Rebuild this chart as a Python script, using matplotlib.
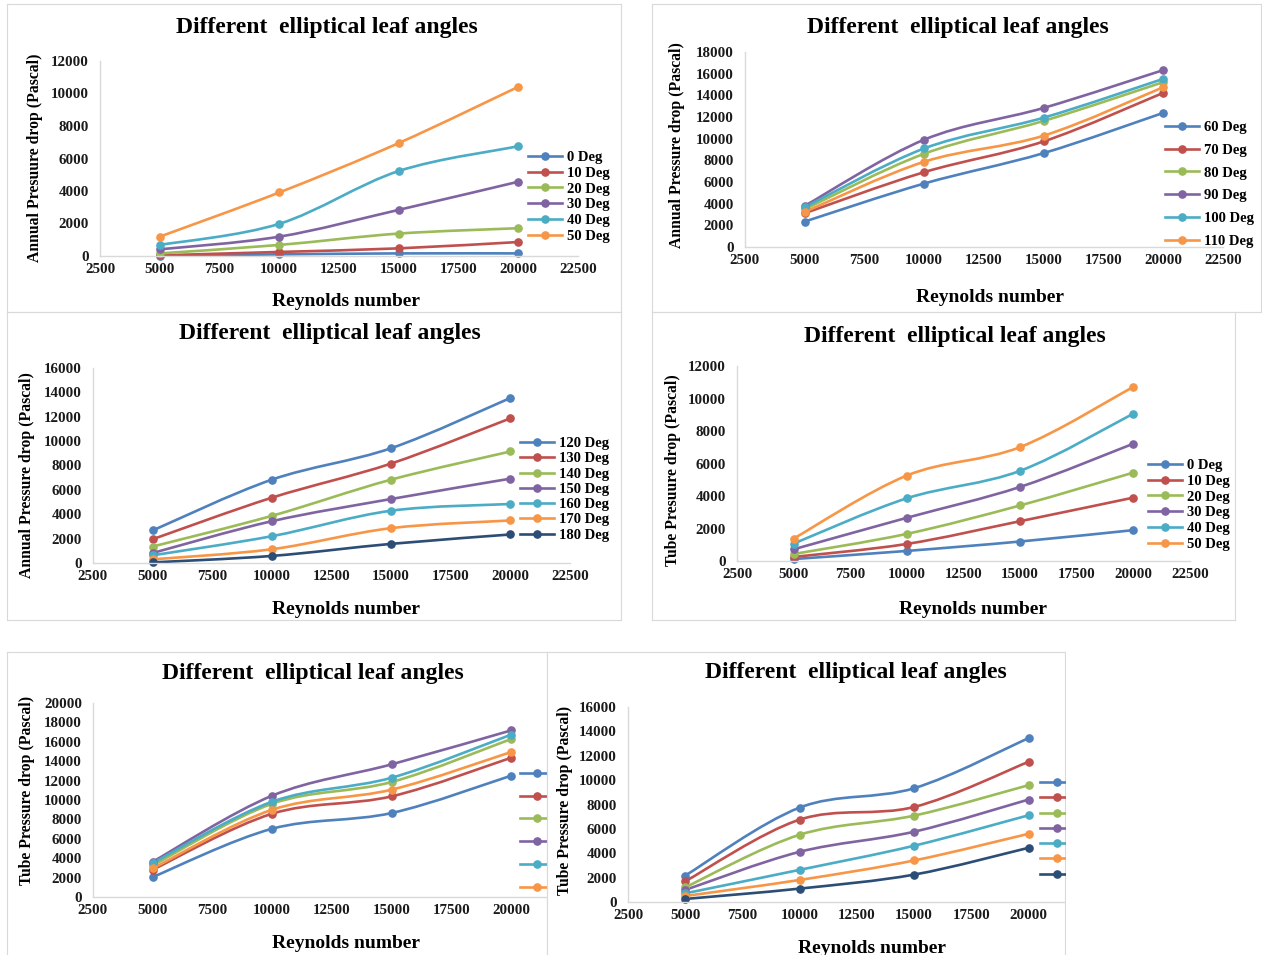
import numpy as np
import matplotlib
matplotlib.use("Agg")
import matplotlib.pyplot as plt
from matplotlib.path import Path
from matplotlib.patches import PathPatch
from matplotlib.lines import Line2D

plt.rcParams['font.family'] = ['Liberation Serif', 'DejaVu Serif']
plt.rcParams['font.weight'] = 'bold'

W, H = 1262, 955

reynolds = [5000, 10000, 15000, 20000]
x_ticks = [2500, 5000, 7500, 10000, 12500, 15000, 17500, 20000, 22500]

colors = ["#4F81BD", "#C0504D", "#9BBB59", "#8064A2", "#4BACC6", "#F79646", "#2C4D75"]

labels_0_50 = ["0 Deg", "10 Deg", "20 Deg", "30 Deg", "40 Deg", "50 Deg"]
labels_60_110 = ["60 Deg", "70 Deg", "80 Deg", "90 Deg", "100 Deg", "110 Deg"]
labels_120_180 = ["120 Deg", "130 Deg", "140 Deg", "150 Deg", "160 Deg", "170 Deg", "180 Deg"]

# annual pressure drop (Pa)
annual_0_50 = [
    [20, 100, 160, 160],
    [40, 250, 470, 860],
    [160, 680, 1380, 1710],
    [410, 1190, 2840, 4570],
    [680, 1980, 5230, 6750],
    [1190, 3910, 6950, 10410],
]
annual_60_110 = [
    [2350, 5860, 8670, 12380],
    [3120, 6910, 9750, 14230],
    [3490, 8610, 11640, 15220],
    [3800, 9910, 12840, 16330],
    [3670, 9100, 11940, 15520],
    [3240, 7870, 10280, 14750],
]
annual_120_180 = [
    [2670, 6840, 9420, 13540],
    [1950, 5360, 8160, 11870],
    [1350, 3870, 6840, 9150],
    [820, 3430, 5250, 6920],
    [630, 2200, 4290, 4840],
    [300, 1130, 2860, 3490],
    [50, 580, 1570, 2340],
]

# tube pressure drop (Pa)
tube_0_50 = [
    [120, 620, 1200, 1900],
    [250, 1050, 2450, 3900],
    [430, 1670, 3420, 5440],
    [720, 2660, 4560, 7220],
    [1070, 3860, 5550, 9070],
    [1380, 5260, 7010, 10720],
]
tube_60_110 = [
    [2060, 7040, 8660, 12510],
    [2820, 8590, 10380, 14360],
    [3260, 9620, 11860, 16290],
    [3640, 10450, 13680, 17180],
    [3510, 9830, 12300, 16740],
    [2960, 9000, 11070, 14950],
]
tube_120_180 = [
    [2170, 7750, 9340, 13460],
    [1700, 6760, 7800, 11510],
    [1210, 5520, 7090, 9590],
    [990, 4120, 5770, 8410],
    [710, 2640, 4620, 7120],
    [490, 1810, 3410, 5600],
    [250, 1100, 2250, 4450],
]

TITLE = "Different  elliptical leaf angles"

fig = plt.figure(figsize=(W / 100, H / 100), dpi=100)
fig.patch.set_facecolor("white")


def px_rect(x0, y0, x1, y1):
    return [x0 / W, 1 - y1 / H, (x1 - x0) / W, (y1 - y0) / H]


def smooth_path(x, y):
    # Excel-style smoothed line (Catmull-Rom as cubic Bezier)
    pts = np.column_stack([x, y]).astype(float)
    n = len(pts)
    verts = [pts[0]]
    codes = [Path.MOVETO]
    for i in range(n - 1):
        p0 = pts[max(i - 1, 0)]
        p1 = pts[i]
        p2 = pts[i + 1]
        p3 = pts[min(i + 2, n - 1)]
        verts += [p1 + (p2 - p0) / 6, p2 - (p3 - p1) / 6, p2]
        codes += [Path.CURVE4] * 3
    return Path(verts, codes)


def draw_panel(frame, box, ymax, series, labels, ylabel, title_xy, xlabel_xy,
               ylabel_xy, leg_xy, leg_space, z):
    fax = fig.add_axes(px_rect(*frame), zorder=z)
    fax.set_xticks([])
    fax.set_yticks([])
    for sp in fax.spines.values():
        sp.set_color("#D9D9D9")
        sp.set_linewidth(0.8)
    fax.set_facecolor("white")

    ax = fig.add_axes(px_rect(*box), zorder=z + 0.5)
    ax.set_facecolor("none")
    ax.set_xlim(2500, 22500)
    ax.set_ylim(0, ymax)
    ax.set_xticks(x_ticks)
    ax.set_yticks(np.arange(0, ymax + 1, 2000))
    ax.tick_params(length=0, labelsize=10.8, colors="#1a1a1a")
    ax.tick_params(axis="y", pad=8)
    ax.tick_params(axis="x", pad=5)
    for side in ["top", "right"]:
        ax.spines[side].set_visible(False)
    for side in ["left", "bottom"]:
        ax.spines[side].set_color("#D9D9D9")
        ax.spines[side].set_linewidth(1.0)

    handles = []
    for vals, lab, c in zip(series, labels, colors):
        ax.add_patch(PathPatch(smooth_path(reynolds, vals), facecolor="none",
                               edgecolor=c, lw=1.9, clip_on=False))
        ax.plot(reynolds, vals, "o", color=c, ms=5.2, clip_on=False)
        handles.append(Line2D([], [], color=c, lw=1.9, marker="o", ms=5.2))

    leg = ax.legend(handles, labels, loc="upper left",
                    bbox_to_anchor=(leg_xy[0] / W, 1 - leg_xy[1] / H),
                    bbox_transform=fig.transFigure, frameon=False, borderpad=0,
                    borderaxespad=0, handlelength=2.35, handletextpad=0.3,
                    labelspacing=leg_space, prop={"size": 10.5, "weight": "bold"})
    # legend labels are cut off by the panel edge in the collage
    for t in leg.get_texts():
        t.set_clip_box(fax.bbox)
        t.set_clip_on(True)

    ax.text(title_xy[0] / W, 1 - title_xy[1] / H, TITLE, transform=fig.transFigure,
            ha="center", va="center", fontsize=17, fontweight="bold")
    ax.text(xlabel_xy[0] / W, 1 - xlabel_xy[1] / H, "Reynolds number",
            transform=fig.transFigure, ha="center", va="center", fontsize=14,
            fontweight="bold")
    ax.text(ylabel_xy[0] / W, 1 - ylabel_xy[1] / H, ylabel, transform=fig.transFigure,
            ha="center", va="center", rotation=90, fontsize=11.3, fontweight="bold")
    return ax


draw_panel((7, 4, 621, 312), (100, 61, 578, 256), 12000, annual_0_50, labels_0_50,
           "Annual Presuure drop (Pascal)", (327, 27), (346, 301), (35, 158),
           (528, 151), 0.17, 0)
draw_panel((652, 4, 1261, 312), (745, 52, 1223, 247), 18000, annual_60_110, labels_60_110,
           "Annual Pressure drop (Pascal)", (958, 27), (990, 297), (677, 145),
           (1165, 121), 0.65, 1)
draw_panel((7, 312, 621, 620), (93, 368, 570, 563), 16000, annual_120_180, labels_120_180,
           "Annual Pressure drop (Pascal)", (330, 333), (346, 610), (27, 475),
           (520, 437), 0.14, 2)
draw_panel((652, 312, 1235, 620), (737, 366, 1190, 561), 12000, tube_0_50, labels_0_50,
           "Tube Presuure drop (Pascal)", (955, 336), (973, 609), (673, 470),
           (1148, 459), 0.17, 3)
draw_panel((7, 652, 547, 956), (93, 703, 571, 897), 20000, tube_60_110, labels_60_110,
           "Tube Pressure drop (Pascal)", (313, 674), (346, 943), (27, 790),
           (520, 768), 0.65, 4)
draw_panel((547, 652, 1065, 956), (628, 707, 1086, 902), 16000, tube_120_180, labels_120_180,
           "Tube Pressure drop (Pascal)", (856, 672), (872, 948), (565, 800),
           (1040, 777), 0.14, 5)

# the bottom-right corner of the collage is blank
cover = fig.add_axes(px_rect(1066, 652, W, H), zorder=10)
cover.set_facecolor("white")
cover.set_xticks([])
cover.set_yticks([])
for sp in cover.spines.values():
    sp.set_visible(False)

fig.savefig("out.png", dpi=100, facecolor="white")
